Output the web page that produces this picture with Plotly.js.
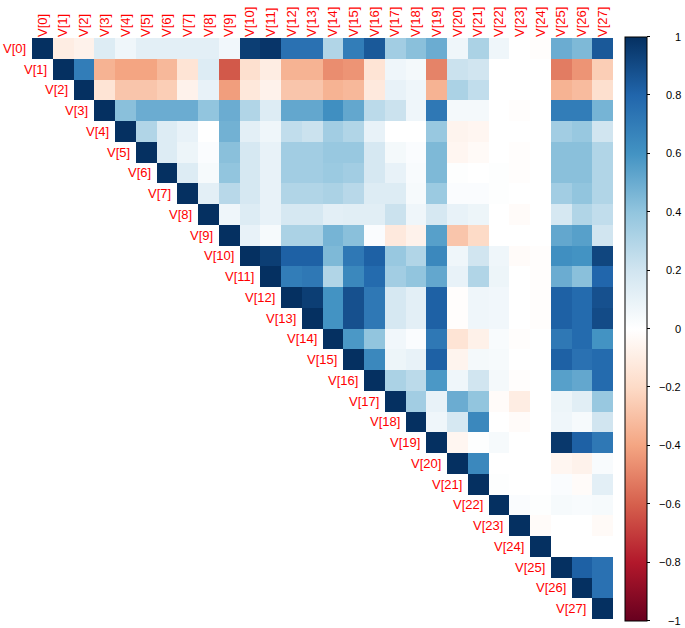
<!DOCTYPE html>
<html>
<head>
<meta charset="utf-8">
<script src="https://cdn.plot.ly/plotly-3.0.1.min.js"></script>
<style>html,body{margin:0;padding:0;background:#fff;}#chart{width:685px;height:628px;}</style>
</head>
<body>
<div id="chart"></div>
<script>
// Variable names
const labels = ["V[0]","V[1]","V[2]","V[3]","V[4]","V[5]","V[6]","V[7]","V[8]","V[9]","V[10]","V[11]","V[12]","V[13]","V[14]","V[15]","V[16]","V[17]","V[18]","V[19]","V[20]","V[21]","V[22]","V[23]","V[24]","V[25]","V[26]","V[27]"];

// Upper-triangle correlations: row i holds columns i..27
const r0  = [1, -0.1, -0.07, 0.15, 0.07, 0.12, 0.12, 0.12, 0.12, 0.06, 0.95, 0.98, 0.75, 0.75, 0.3, 0.7, 0.85, 0.35, 0.42, 0.5, 0.07, 0.32, 0.07, 0, -0.01, 0.5, 0.45, 0.85];
const r1  = [1, 0.7, -0.35, -0.4, -0.4, -0.33, -0.15, 0.15, -0.62, -0.17, -0.1, -0.35, -0.35, -0.47, -0.45, -0.15, 0.07, 0.05, -0.5, 0.22, 0.2, 0, 0, 0, -0.52, -0.45, -0.25];
const r2  = [1, -0.15, -0.28, -0.28, -0.25, -0.07, 0.1, -0.42, -0.13, -0.07, -0.28, -0.28, -0.35, -0.33, -0.12, 0.1, 0.07, -0.35, 0.32, 0.25, 0, 0, 0, -0.35, -0.32, -0.17];
const r3  = [1, 0.42, 0.5, 0.5, 0.5, 0.4, 0.5, 0.3, 0.15, 0.52, 0.52, 0.62, 0.52, 0.27, 0.22, 0.07, 0.72, 0.05, 0.05, 0, -0.01, 0, 0.7, 0.7, 0.47];
const r4  = [1, 0.3, 0.15, 0.1, 0, 0.48, 0.12, 0.07, 0.25, 0.22, 0.35, 0.3, 0.1, 0, 0, 0.38, -0.06, -0.05, 0, 0, 0, 0.35, 0.38, 0.2];
const r5  = [1, 0.15, 0.08, 0.02, 0.42, 0.18, 0.1, 0.35, 0.35, 0.38, 0.38, 0.18, 0.05, 0.02, 0.45, -0.05, -0.03, 0, -0.01, 0, 0.42, 0.42, 0.3];
const r6  = [1, 0.15, 0.04, 0.4, 0.18, 0.1, 0.35, 0.35, 0.37, 0.35, 0.18, 0.1, 0.03, 0.45, 0.01, 0, 0.01, -0.01, 0, 0.42, 0.42, 0.3];
const r7  = [1, 0.12, 0.28, 0.18, 0.1, 0.3, 0.3, 0.32, 0.28, 0.15, 0.15, 0.04, 0.37, 0.02, 0.02, 0.01, 0, 0, 0.35, 0.4, 0.3];
const r8  = [1, 0.07, 0.15, 0.1, 0.18, 0.18, 0.12, 0.13, 0.13, 0.22, 0.07, 0.18, 0.1, 0.08, 0, -0.02, 0, 0.18, 0.3, 0.25];
const r9  = [1, 0.1, 0.04, 0.32, 0.32, 0.47, 0.42, 0.02, -0.12, -0.07, 0.55, -0.28, -0.2, 0, 0, 0, 0.52, 0.55, 0.2];
const r10 = [1, 0.95, 0.82, 0.82, 0.45, 0.72, 0.82, 0.38, 0.3, 0.65, 0.07, 0.2, 0.07, -0.02, -0.01, 0.62, 0.6, 0.92];
const r11 = [1, 0.7, 0.72, 0.3, 0.65, 0.78, 0.35, 0.4, 0.52, 0.1, 0.3, 0.08, 0, -0.01, 0.5, 0.42, 0.8];
const r12 = [1, 0.95, 0.6, 0.88, 0.72, 0.18, 0.12, 0.82, -0.01, 0.07, 0.06, 0, -0.01, 0.82, 0.78, 0.88];
const r13 = [1, 0.6, 0.88, 0.72, 0.18, 0.12, 0.82, -0.01, 0.07, 0.06, 0, -0.01, 0.82, 0.78, 0.9];
const r14 = [1, 0.58, 0.4, 0.06, 0.02, 0.72, -0.15, -0.08, 0.03, -0.01, 0, 0.72, 0.78, 0.6];
const r15 = [1, 0.65, 0.08, 0.1, 0.82, -0.06, 0.05, 0.04, 0, 0, 0.82, 0.75, 0.78];
const r16 = [1, 0.32, 0.27, 0.58, 0.07, 0.2, 0.05, -0.01, 0, 0.55, 0.52, 0.78];
const r17 = [1, 0.35, 0.1, 0.5, 0.4, -0.02, -0.1, 0, 0.08, 0.13, 0.38];
const r18 = [1, 0.07, 0.18, 0.65, 0, -0.02, 0, 0.07, 0.04, 0.2];
const r19 = [1, -0.05, 0.01, 0.04, 0, 0, 0.97, 0.82, 0.72];
const r20 = [1, 0.65, 0, 0, 0, -0.05, -0.07, 0.03];
const r21 = [1, 0.01, 0, 0, 0.02, -0.02, 0.12];
const r22 = [1, 0.02, 0.01, 0.04, 0.03, 0.04];
const r23 = [1, -0.02, 0, 0, -0.03];
const r24 = [1, 0, 0, 0];
const r25 = [1, 0.82, 0.75];
const r26 = [1, 0.75];
const r27 = [1];

// Colorbar ticks
const cbTickVals = [-1, -0.8, -0.6, -0.4, -0.2, 0, 0.2, 0.4, 0.6, 0.8, 1];
const cbTickText = ["\u22121", "\u22120.8", "\u22120.6", "\u22120.4", "\u22120.2", "0", "0.2", "0.4", "0.6", "0.8", "1"];

// corrplot RdBu palette
const palette = ["#67001F", "#B2182B", "#D6604D", "#F4A582", "#FDDBC7", "#FFFFFF", "#D1E5F0", "#92C5DE", "#4393C3", "#2166AC", "#053061"];
const colorscale = palette.map((c, i) => [i / (palette.length - 1), c]);

const rows = [r0,r1,r2,r3,r4,r5,r6,r7,r8,r9,r10,r11,r12,r13,r14,r15,r16,r17,r18,r19,r20,r21,r22,r23,r24,r25,r26,r27];
const n = labels.length;
const idx = labels.map((_, i) => i);
const z = rows.map((row, i) => idx.map(j => (j >= i ? row[j - i] : null)));

const FONT = "Liberation Sans, Arial, sans-serif";
const W = 685, H = 628;
const margin = {l: 32, r: 72, t: 38, b: 9, pad: 0};
const plotW = W - margin.l - margin.r;
const plotH = H - margin.t - margin.b;
const cbLen = 584;

const trace = {
  type: "heatmap",
  x: idx,
  y: idx,
  z: z,
  zmin: -1,
  zmax: 1,
  colorscale: colorscale,
  xgap: 0,
  ygap: 0,
  hoverongaps: false,
  colorbar: {
    thickness: 22,
    thicknessmode: "pixels",
    len: cbLen,
    lenmode: "pixels",
    x: (625 - margin.l) / plotW,
    xanchor: "left",
    xpad: 0,
    y: 0.5,
    yanchor: "middle",
    ypad: 0,
    outlinewidth: 1,
    outlinecolor: "#000",
    ticks: "outside",
    ticklen: 3,
    tickwidth: 1,
    tickcolor: "#000",
    tickvals: cbTickVals,
    showticklabels: false
  }
};

// Row labels next to the diagonal
const rowAnn = labels.map((lab, i) => ({
  x: i - 0.5,
  y: i,
  xref: "x",
  yref: "y",
  text: lab,
  showarrow: false,
  xanchor: "right",
  yanchor: "middle",
  xshift: -4,
  font: {family: FONT, size: 13, color: "#FF0000"}
}));

// Right-aligned colorbar tick labels
const cbAnn = cbTickVals.map((v, k) => ({
  x: (683 - margin.l) / plotW,
  y: 0.5 + v * (cbLen / 2) / plotH,
  xref: "paper",
  yref: "paper",
  text: cbTickText[k],
  showarrow: false,
  xanchor: "right",
  yanchor: "middle",
  font: {family: FONT, size: 11, color: "#000"}
}));

const layout = {
  width: W,
  height: H,
  margin: margin,
  paper_bgcolor: "#fff",
  plot_bgcolor: "#fff",
  showlegend: false,
  xaxis: {
    range: [-0.5, n - 0.5],
    side: "top",
    tickmode: "array",
    tickvals: idx,
    ticktext: labels,
    tickangle: -90,
    ticks: "",
    ticklen: 0,
    showgrid: false,
    zeroline: false,
    showline: false,
    fixedrange: true,
    tickfont: {family: FONT, size: 13, color: "#FF0000"}
  },
  yaxis: {
    range: [n - 0.5, -0.5],
    showticklabels: false,
    ticks: "",
    showgrid: false,
    zeroline: false,
    showline: false,
    fixedrange: true
  },
  annotations: rowAnn.concat(cbAnn)
};

Plotly.newPlot("chart", [trace], layout, {displayModeBar: false, staticPlot: true});
</script>
</body>
</html>
